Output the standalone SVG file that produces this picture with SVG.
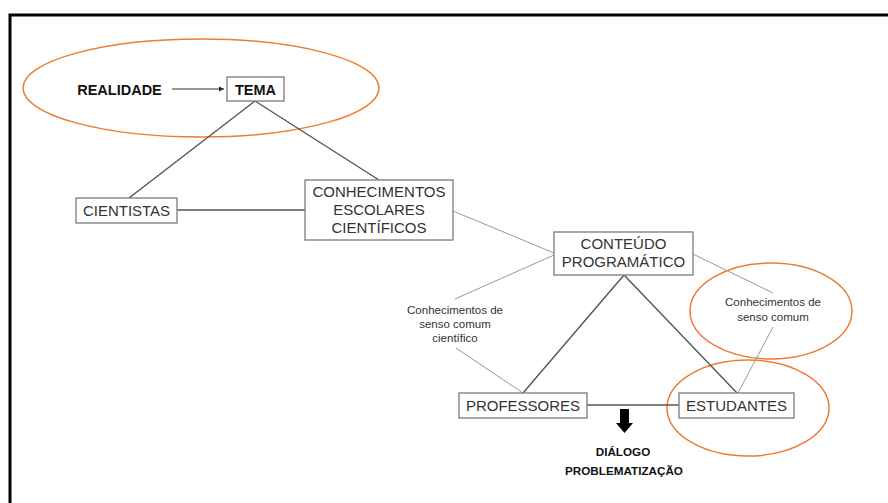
<svg xmlns="http://www.w3.org/2000/svg" width="888" height="503" viewBox="0 0 888 503">
  <style>
    .box { fill: #fff; stroke: #7a7a7a; stroke-width: 1.3; }
    .lbl { font-family: "Liberation Sans", Arial, sans-serif; font-size: 15px; fill: #333; text-anchor: middle; }
    .bold { font-family: "Liberation Sans", Arial, sans-serif; font-weight: bold; fill: #111; text-anchor: middle; }
    .small { font-family: "Liberation Sans", Arial, sans-serif; font-size: 11.5px; fill: #333; text-anchor: middle; }
    .edge { stroke: #555; stroke-width: 1.4; fill: none; }
    .thin { stroke: #999; stroke-width: 1; fill: none; }
    .ring { fill: none; stroke: #ED7D31; stroke-width: 1.5; }
  </style>
  <defs>
    <marker id="head" markerWidth="6" markerHeight="6" refX="5" refY="3" orient="auto" markerUnits="userSpaceOnUse">
      <path d="M0,0.5 L5,3 L0,5.5 Z" fill="#222"/>
    </marker>
  </defs>

  <rect width="888" height="503" fill="#fff"/>
  <!-- frame -->
  <path d="M10,503 L10,15 L888,15" fill="none" stroke="#000" stroke-width="3"/>

  <!-- highlight ellipses -->
  <g id="highlights">
    <ellipse class="ring" cx="201" cy="88" rx="178" ry="49"/>
    <ellipse class="ring" cx="771" cy="311" rx="81" ry="48"/>
    <ellipse class="ring" cx="748" cy="408" rx="81" ry="48"/>
  </g>

  <!-- connectors -->
  <g id="connectors">
    <line x1="172" y1="89" x2="224" y2="89" stroke="#333" stroke-width="1" marker-end="url(#head)"/>
    <line class="edge" x1="255" y1="101" x2="129" y2="198"/>
    <line class="edge" x1="255" y1="101" x2="379" y2="180"/>
    <line class="edge" x1="177" y1="210" x2="305" y2="210"/>
    <line class="thin" x1="453" y1="211" x2="554" y2="253"/>
    <line class="thin" x1="554" y1="255" x2="455" y2="299"/>
    <line class="thin" x1="456" y1="348" x2="523" y2="393"/>
    <line class="edge" x1="523" y1="393" x2="624" y2="275"/>
    <line class="edge" x1="624" y1="275" x2="737" y2="393"/>
    <line class="edge" x1="587" y1="405" x2="679" y2="405"/>
    <line class="thin" x1="693" y1="254" x2="773" y2="293"/>
    <line class="thin" x1="773" y1="327" x2="738" y2="393"/>
  </g>

  <g id="realidade">
    <text class="bold" x="119.5" y="94.5" font-size="14.5">REALIDADE</text>
  </g>

  <g id="tema">
    <rect class="box" x="227" y="77" width="57" height="24"/>
    <text class="bold" x="255.5" y="94.5" font-size="14.5">TEMA</text>
  </g>

  <g id="cientistas">
    <rect class="box" x="76" y="198" width="101" height="25"/>
    <text class="lbl" x="126.5" y="216">CIENTISTAS</text>
  </g>

  <g id="conhecimentos-escolares">
    <rect class="box" x="305" y="180" width="148" height="60"/>
    <text class="lbl" x="379" y="197">CONHECIMENTOS</text>
    <text class="lbl" x="379" y="215">ESCOLARES</text>
    <text class="lbl" x="379" y="233">CIENTÍFICOS</text>
  </g>

  <g id="conteudo">
    <rect class="box" x="554" y="232" width="139" height="43"/>
    <text class="lbl" x="623.5" y="249">CONTEÚDO</text>
    <text class="lbl" x="623.5" y="267">PROGRAMÁTICO</text>
  </g>

  <g id="senso-cientifico">
    <text class="small" x="455" y="314">Conhecimentos de</text>
    <text class="small" x="455" y="328">senso comum</text>
    <text class="small" x="455" y="342">científico</text>
  </g>

  <g id="senso-comum">
    <text class="small" x="773" y="306">Conhecimentos de</text>
    <text class="small" x="773" y="321">senso comum</text>
  </g>

  <g id="professores">
    <rect class="box" x="459" y="393" width="128" height="25"/>
    <text class="lbl" x="523" y="411">PROFESSORES</text>
  </g>

  <g id="estudantes">
    <rect class="box" x="679" y="393" width="115" height="25"/>
    <text class="lbl" x="736.5" y="411">ESTUDANTES</text>
  </g>

  <g id="dialogo">
    <path d="M620,409 L629,409 L629,423 L633,423 L624.5,433 L616,423 L620,423 Z" fill="#000"/>
    <text class="bold" x="623" y="456" font-size="11.7">DIÁLOGO</text>
    <text class="bold" x="624" y="475" font-size="11.7">PROBLEMATIZAÇÃO</text>
  </g>
</svg>
